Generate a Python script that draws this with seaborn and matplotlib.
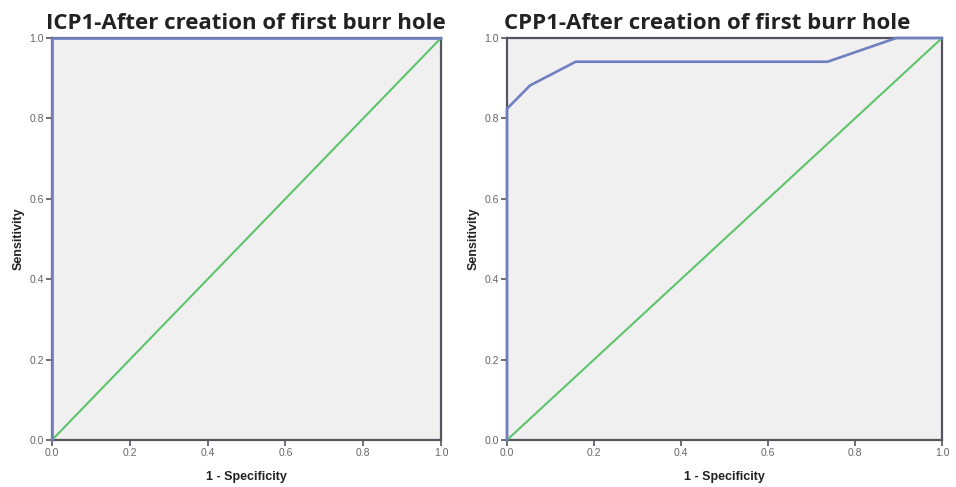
import matplotlib
matplotlib.use("Agg")
import matplotlib.pyplot as plt
import seaborn as sns
import pandas as pd

sns.set_theme(style="white")
plt.rcParams['font.family'] = ['Liberation Sans', 'DejaVu Sans']

titles = ["ICP1-After creation of first burr hole", "CPP1-After creation of first burr hole"]
# ROC curve points (1 - specificity, sensitivity)
icp_fpr = [0.0, 0.0, 1.0]
icp_tpr = [0.0, 1.0, 1.0]
cpp_fpr = [0.0, 0.0, 0.053, 0.158, 0.737, 0.895, 1.0]
cpp_tpr = [0.0, 0.824, 0.882, 0.941, 0.941, 1.0, 1.0]
ref_line = [0.0, 1.0]
ticks = [0.0, 0.2, 0.4, 0.6, 0.8, 1.0]
tick_labels = ["0.0", "0.2", "0.4", "0.6", "0.8", "1.0"]

curve_color = "#6f80c0"
ref_color = "#5ec46c"
bg = "#f0f0f0"
edge = "#555560"

fig = plt.figure(figsize=(9.56, 4.87), dpi=100)
W, H = 956, 487
boxes = [(52, 38, 441, 440), (507, 38, 942, 440)]
title_x = [46, 504]
data = [(icp_fpr, icp_tpr), (cpp_fpr, cpp_tpr)]

for i, ((x0, y0, x1, y1), (fx, ty), title) in enumerate(zip(boxes, data, titles)):
    ax = fig.add_axes([x0 / W, 1 - y1 / H, (x1 - x0) / W, (y1 - y0) / H])
    ax.set_facecolor(bg)
    df = pd.DataFrame({"fpr": fx, "tpr": ty})
    ref = pd.DataFrame({"x": ref_line, "y": ref_line})
    sns.lineplot(data=ref, x="x", y="y", ax=ax, color=ref_color, lw=1.5, sort=False,
                 estimator=None, clip_on=False, zorder=3)
    sns.lineplot(data=df, x="fpr", y="tpr", ax=ax, color=curve_color, lw=1.9, sort=False,
                 estimator=None, clip_on=False, zorder=4)
    ax.set_xlim(0, 1)
    ax.set_ylim(0, 1)
    ax.set_xticks(ticks)
    ax.set_yticks(ticks)
    ax.set_xticklabels(tick_labels, fontsize=7.5, color="#666666")
    ax.set_yticklabels(tick_labels, fontsize=7.5, color="#666666")
    ax.tick_params(axis="both", direction="out", length=4, width=1.2, color=edge, pad=2, bottom=True, left=True)
    for s in ax.spines.values():
        s.set_color(edge)
        s.set_linewidth(1.6)
    ax.set_xlabel("1 - Specificity", fontsize=9, fontweight="bold", color="#222222", labelpad=9)
    ax.set_ylabel("Sensitivity", fontsize=9, fontweight="bold", color="#222222", labelpad=3)
    fig.text(title_x[i] / W, 1 - 29 / H, title, fontsize=16, fontweight="bold",
             family=["Open Sans", "DejaVu Sans"], color="#222222", ha="left", va="baseline")

fig.savefig("out.png", dpi=100, facecolor="white")
